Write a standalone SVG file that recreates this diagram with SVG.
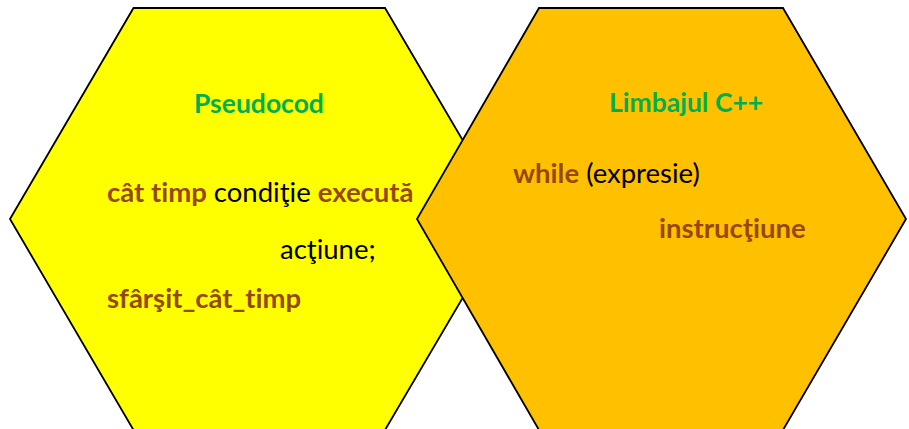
<svg xmlns="http://www.w3.org/2000/svg" width="909" height="429" viewBox="0 0 909 429">
  <style>
    .hex { stroke: #000000; stroke-width: 1.8; stroke-linejoin: miter; }
    .txt { font-family: Lato, "Open Sans", "Liberation Sans", sans-serif; font-size: 27.5px; fill: #000000; font-variant-ligatures: none; }
    .title { font-weight: bold; fill: #00B050; font-size: 26.5px; }
    .kw { font-weight: bold; fill: #984806; }
  </style>
  <rect width="909" height="429" fill="#FFFFFF"/>

  <!-- Pseudocode hexagon -->
  <g id="pseudocod">
    <polygon class="hex" fill="#FFFF00" points="133.5,8 385,8 509,219 385,430 133.5,430 10,219"/>
    <text class="txt title" x="194" y="113">Pseudocod</text>
    <text class="txt" x="107" y="202"><tspan class="kw">cât timp</tspan> condiţie <tspan class="kw">execută</tspan></text>
    <text class="txt" x="280" y="259">acţiune;</text>
    <text class="txt kw" x="107" y="308">sfârşit_cât_timp</text>
  </g>

  <!-- C++ hexagon -->
  <g id="limbajul-cpp">
    <polygon class="hex" fill="#FFC000" points="539,8 783,8 906,219 783,430 539,430 417,219"/>
    <text class="txt title" x="609" y="112">Limbajul C++</text>
    <text class="txt" x="513" y="183"><tspan class="kw">while</tspan> (expresie)</text>
    <text class="txt kw" x="659" y="238">instrucţiune</text>
  </g>

  <g id="connectors"/>
</svg>
